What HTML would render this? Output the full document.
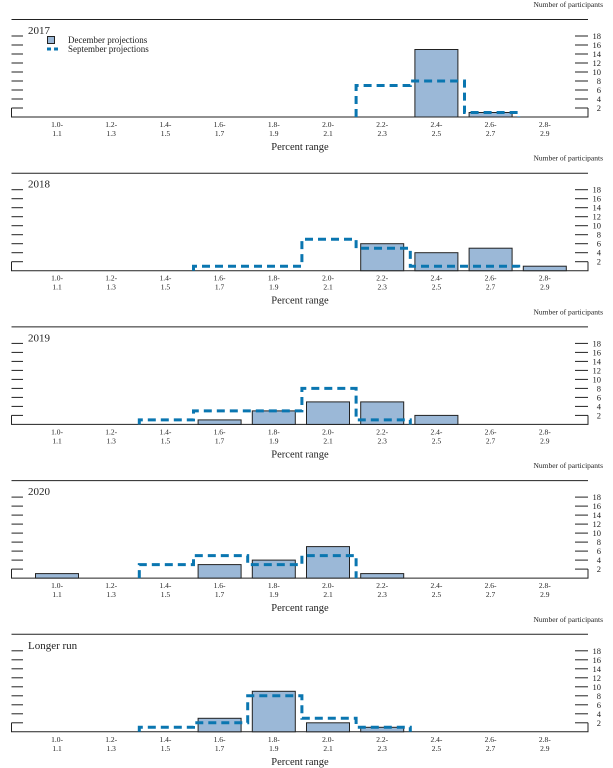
<!DOCTYPE html>
<html><head><meta charset="utf-8"><style>
body{margin:0;background:#fff}
svg{display:block}
text{font-family:"Liberation Serif",serif;fill:#222}
</style></head><body>
<svg id="chart" width="613" height="768" viewBox="0 0 613 768"></svg>
<script>
const categories = ["1.0-1.1","1.2-1.3","1.4-1.5","1.6-1.7","1.8-1.9","2.0-2.1","2.2-2.3","2.4-2.5","2.6-2.7","2.8-2.9"];
const panelTitles = ["2017","2018","2019","2020","Longer run"];
const decDec2017 = [0,0,0,0,0,0,0,15,1,0];
const decDec2018 = [0,0,0,0,0,0,6,4,5,1];
const decDec2019 = [0,0,0,1,3,5,5,2,0,0];
const decDec2020 = [1,0,0,3,4,7,1,0,0,0];
const decDecLR   = [0,0,0,3,9,2,1,0,0,0];
const sep2017 = [0,0,0,0,0,0,7,8,1,0];
const sep2018 = [0,0,0,1,1,7,5,1,1,0];
const sep2019 = [0,0,1,3,3,8,1,0,0,0];
const sep2020 = [0,0,3,5,3,5,0,0,0,0];
const sepLR   = [0,0,1,2,8,3,1,0,0,0];
const yTicks = [2,4,6,8,10,12,14,16,18];
const december = [decDec2017,decDec2018,decDec2019,decDec2020,decDecLR];
const september = [sep2017,sep2018,sep2019,sep2020,sepLR];

const NS="http://www.w3.org/2000/svg";
const svg=document.getElementById('chart');
function mk(tag,attrs,parent,txt){const e=document.createElementNS(NS,tag);for(const k in attrs)e.setAttribute(k,attrs[k]);if(txt!==undefined)e.textContent=txt;(parent||svg).appendChild(e);return e;}
const binW=54.2, x0=57;
function xc(i){return x0+binW*i;}
const scaleY=4.5;
const L=11.5, R=588;
for(let p=0;p<5;p++){
  const off=p*153.7;
  const base=117+off;
  const y=v=>base-v*scaleY;
  const g=mk('g',{});
  
  
  const t1=mk('text',{x:603,y:7+off,'font-size':7.5,'text-anchor':'end'},g,'Number of participants');
  
  const rule=mk('line',{x1:L,x2:R,y1:19.5+off,y2:19.5+off,stroke:'#222','stroke-width':1},g);
  
  const tt=mk('text',{x:28,y:34+off,'font-size':11},g,panelTitles[p]);
  
  const ax=mk('path',{d:`M${L} ${y(2)} V${base} H${R} V${y(2)}`,fill:'none',stroke:'#222','stroke-width':1},g);
  
  yTicks.forEach(v=>{
    mk('line',{x1:L,x2:23,y1:y(v),y2:y(v),stroke:'#222','stroke-width':1},g);
    mk('line',{x1:575,x2:R,y1:y(v),y2:y(v),stroke:'#222','stroke-width':1},g);
    const tl=mk('text',{x:601,y:y(v)+3,'font-size':8.5,'text-anchor':'end'},g,String(v));
    
  });
  december[p].forEach((v,i)=>{
    if(!v)return;
    const r=mk('rect',{x:xc(i)-21.5,y:y(v),width:43,height:v*scaleY,fill:'#9bb8d7',stroke:'#222','stroke-width':1},g);
    
    
  });
  const s=september[p];
  let d='';let prev=0;
  for(let i=0;i<s.length;i++){
    const v=s[i];
    const xl=xc(i)-binW/2+1;
    if(v!==prev){
      if(prev===0){d+=`M${xl} ${base} V${y(v)}`;}
      else if(v===0){d+=` H${xl} V${base}`;}
      else{d+=` H${xl} V${y(v)}`;}
    }
    prev=v;
  }
  if(prev) d+=` H${xc(s.length)-binW/2+1} V${base}`;
  const sp=mk('path',{d:d,fill:'none',stroke:'#0a76b0','stroke-width':3,'stroke-dasharray':'8,5'},g);
  
  
  categories.forEach((c,i)=>{
    const [a,b]=c.split('-');
    const l=mk('text',{x:xc(i),y:127+off,'font-size':7.5,'text-anchor':'middle'},g,a+'-');
    
    const l2=mk('text',{x:xc(i),y:136+off,'font-size':7.5,'text-anchor':'middle'},g,b);
    
  });
  const xt=mk('text',{x:300,y:150+off,'font-size':10.5,'text-anchor':'middle'},g,'Percent range');
  
  if(p===0){
    const lg=mk('g',{},g);
    
    const sq=mk('rect',{x:47.5,y:36.5,width:7,height:7,fill:'#9bb8d7',stroke:'#222','stroke-width':1},lg);
    
    const lt=mk('text',{x:68,y:43,'font-size':9},lg,'December projections');
    
    const ll=mk('line',{x1:47,x2:61,y1:49,y2:49,stroke:'#0a76b0','stroke-width':3,'stroke-dasharray':'4,3'},lg);
    
    const lt2=mk('text',{x:68,y:52,'font-size':9},lg,'September projections');
    
  }
}
</script>
</body></html>
